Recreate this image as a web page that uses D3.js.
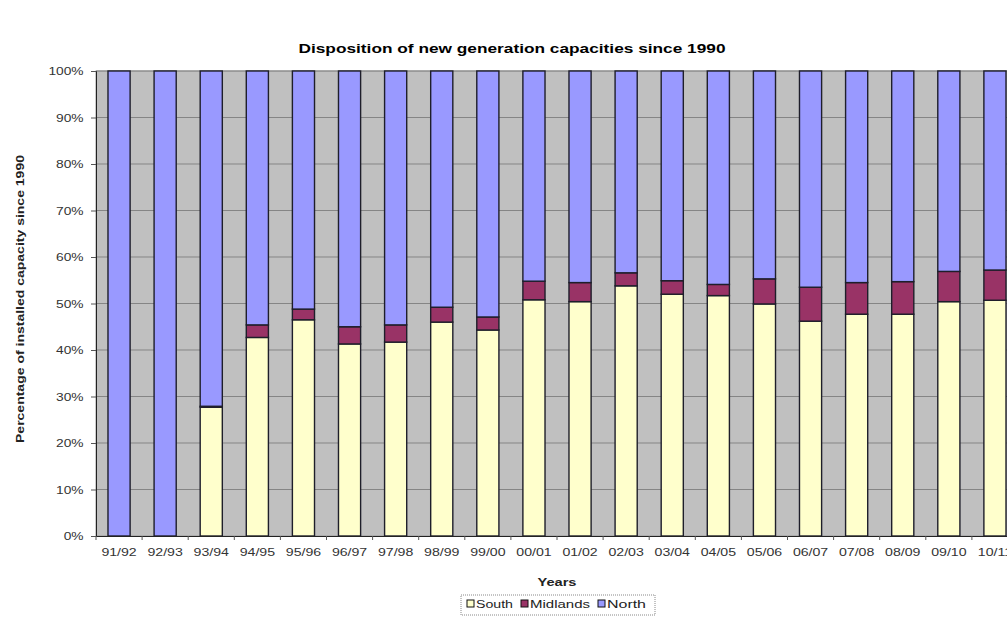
<!DOCTYPE html>
<html>
<head>
<meta charset="utf-8">
<script src="https://cdn.jsdelivr.net/npm/d3@7"></script>
<style>
  html, body { margin: 0; padding: 0; background: #fff; overflow: hidden; }
  svg { display: block; font-family: "Liberation Sans", Arial, sans-serif; }
</style>
</head>
<body>
<svg id="chart" width="1007" height="623"></svg>
<script>
// Financial years on the category axis
const years = ["91/92","92/93","93/94","94/95","95/96","96/97","97/98","98/99","99/00","00/01",
               "01/02","02/03","03/04","04/05","05/06","06/07","07/08","08/09","09/10","10/11"];

// Share of new capacity (%) by region
const south    = [0, 0, 27.7, 42.7, 46.5, 41.3, 41.7, 46.0, 44.3, 50.8,
                  50.4, 53.8, 52.0, 51.7, 49.9, 46.2, 47.7, 47.7, 50.4, 50.7];
const midlands = [0, 0, 0.2, 2.7, 2.3, 3.7, 3.7, 3.2, 2.8, 4.0,
                  4.1, 2.8, 2.9, 2.4, 5.4, 7.3, 6.8, 7.0, 6.5, 6.5];
const north    = south.map((s, i) => +(100 - s - midlands[i]).toFixed(1));

const regions = ["South", "Midlands", "North"];
const colors  = ["#ffffcc", "#993366", "#9999ff"];
const yTicks  = [0, 10, 20, 30, 40, 50, 60, 70, 80, 90, 100];

const rows = years.map((y, i) => ({ year: y, South: south[i], Midlands: midlands[i], North: north[i] }));

const svg = d3.select("#chart");
const plot = { left: 96, top: 71, width: 922, height: 465 };
const SX = 1.25; // horizontal stretch of the small labels

const x = d3.scaleBand().domain(years).range([plot.left, plot.left + plot.width]).paddingInner(0.52).paddingOuter(0.26);
const y = d3.scaleLinear().domain([0, 100]).range([plot.top + plot.height, plot.top]);

// Title
svg.append("text")
  .attr("x", 512).attr("y", 53)
  .attr("text-anchor", "middle")
  .attr("font-size", 12.5).attr("font-weight", "bold")
  .attr("textLength", 427).attr("lengthAdjust", "spacingAndGlyphs")
  .text("Disposition of new generation capacities since 1990");

// Plot background
svg.append("rect")
  .attr("x", plot.left).attr("y", plot.top)
  .attr("width", plot.width).attr("height", plot.height)
  .attr("fill", "#c0c0c0").attr("stroke", "#9a9a9a");

// Gridlines
svg.append("g").selectAll("line").data(yTicks.slice(1)).join("line")
  .attr("x1", plot.left).attr("x2", plot.left + plot.width)
  .attr("y1", d => y(d)).attr("y2", d => y(d))
  .attr("stroke", "#858585").attr("stroke-width", 1);

// Stacked bars
const series = d3.stack().keys(regions)(rows);
svg.append("g").selectAll("g").data(series).join("g")
  .attr("fill", (d, i) => colors[i])
  .selectAll("rect").data(d => d.filter(p => p[1] - p[0] > 0)).join("rect")
  .attr("x", d => x(d.data.year))
  .attr("width", x.bandwidth())
  .attr("y", d => y(d[1]))
  .attr("height", d => y(d[0]) - y(d[1]))
  .attr("stroke", "#1e1e2a").attr("stroke-width", 1.4);

// Y axis
const yAxis = svg.append("g")
  .attr("transform", `translate(${plot.left},0)`)
  .call(d3.axisLeft(y).tickValues(yTicks).tickFormat(d => d + "%").tickSize(5).tickPadding(5));
yAxis.select(".domain").attr("stroke", "#222");
yAxis.selectAll(".tick line").attr("stroke", "#555");
yAxis.selectAll("text")
  .attr("font-size", 11).attr("fill", "#333")
  .attr("font-family", "'Liberation Sans', Arial, sans-serif")
  .attr("transform", `scale(${SX},1)`);

// X axis
const xAxis = svg.append("g")
  .attr("transform", `translate(0,${plot.top + plot.height})`)
  .call(d3.axisBottom(x).tickSize(0).tickPadding(12));
xAxis.select(".domain").attr("stroke", "#222");
xAxis.selectAll("text")
  .attr("font-size", 11.3).attr("fill", "#333")
  .attr("font-family", "'Liberation Sans', Arial, sans-serif")
  .attr("transform", `scale(${SX},1)`);
// Tick marks between categories
xAxis.append("g").selectAll("line").data(years).join("line")
  .attr("x1", d => x(d) - x.step() * x.paddingInner() / 2)
  .attr("x2", d => x(d) - x.step() * x.paddingInner() / 2)
  .attr("y1", 0).attr("y2", 4)
  .attr("stroke", "#555");

// Axis titles
svg.append("text")
  .attr("x", 557).attr("y", 586)
  .attr("text-anchor", "middle")
  .attr("font-size", 11).attr("font-weight", "bold").attr("fill", "#222")
  .attr("textLength", 39).attr("lengthAdjust", "spacingAndGlyphs")
  .text("Years");

svg.append("text")
  .attr("transform", "translate(24,299) rotate(-90)")
  .attr("text-anchor", "middle")
  .attr("font-size", 11).attr("font-weight", "bold").attr("fill", "#222")
  .attr("textLength", 288).attr("lengthAdjust", "spacingAndGlyphs")
  .text("Percentage of installed capacity since 1990");

// Legend
const legend = svg.append("g");
legend.append("rect")
  .attr("x", 461).attr("y", 595).attr("width", 194).attr("height", 20)
  .attr("fill", "#fff").attr("stroke", "#888").attr("stroke-dasharray", "1,1");
const legendX = [467, 521, 598];
const legendW = [39, 62, 41];
regions.forEach((r, i) => {
  legend.append("rect")
    .attr("x", legendX[i]).attr("y", 600).attr("width", 7).attr("height", 7)
    .attr("fill", colors[i]).attr("stroke", "#111").attr("stroke-width", 1);
  legend.append("text")
    .attr("x", legendX[i] + 9).attr("y", 608)
    .attr("font-size", 10.5).attr("fill", "#222")
    .attr("textLength", legendW[i] - 2).attr("lengthAdjust", "spacingAndGlyphs")
    .text(r);
});
</script>
</body>
</html>
